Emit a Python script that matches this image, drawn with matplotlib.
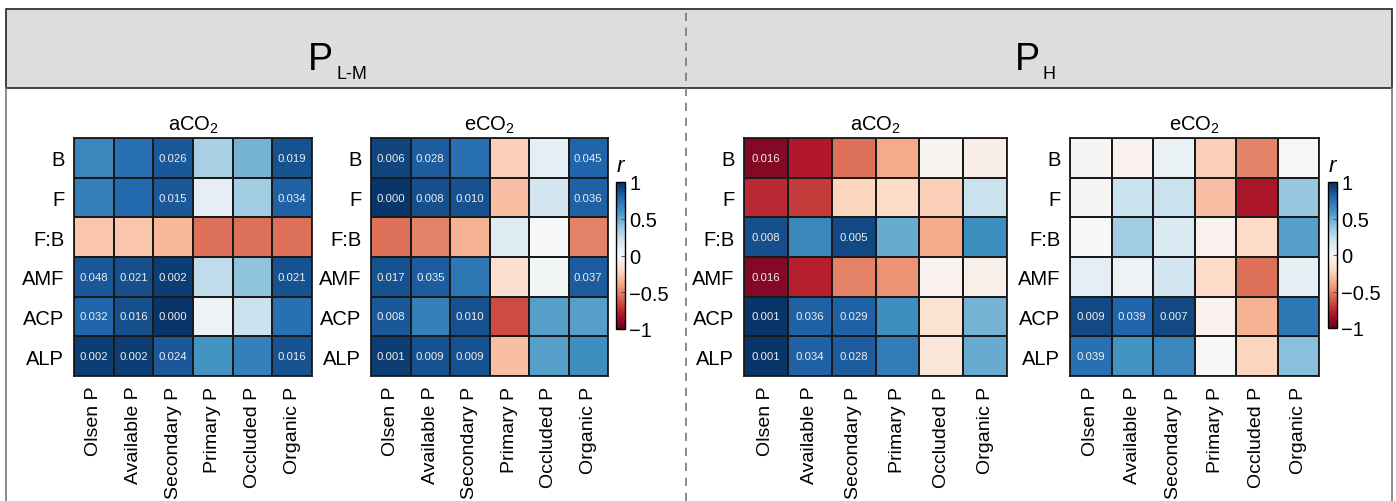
import matplotlib
matplotlib.use('Agg')
import matplotlib.pyplot as plt
import numpy as np
from matplotlib.patches import Rectangle
from matplotlib.lines import Line2D

W, H = 1396, 502

plt.rcParams['font.family'] = ['Liberation Sans', 'DejaVu Sans']
plt.rcParams['mathtext.default'] = 'regular'

rows = ['B', 'F', 'F:B', 'AMF', 'ACP', 'ALP']
cols = ['Olsen P', 'Available P', 'Secondary P', 'Primary P', 'Occluded P', 'Organic P']

# correlation r, P_L-M under aCO2
lm_a_r = [[0.65, 0.75, 0.85, 0.33, 0.47, 0.87],
          [0.68, 0.78, 0.85, 0.10, 0.35, 0.82],
          [-0.28, -0.28, -0.33, -0.55, -0.55, -0.55],
          [0.85, 0.88, 0.95, 0.25, 0.40, 0.87],
          [0.80, 0.88, 0.97, 0.05, 0.22, 0.75],
          [0.95, 0.95, 0.85, 0.60, 0.68, 0.87]]
lm_a_p = [['', '', '0.026', '', '', '0.019'],
          ['', '', '0.015', '', '', '0.034'],
          ['', '', '', '', '', ''],
          ['0.048', '0.021', '0.002', '', '', '0.021'],
          ['0.032', '0.016', '0.000', '', '', ''],
          ['0.002', '0.002', '0.024', '', '', '0.016']]

# P_L-M under eCO2
lm_e_r = [[0.92, 0.83, 0.75, -0.25, 0.10, 0.80],
          [0.97, 0.88, 0.87, -0.30, 0.18, 0.82],
          [-0.55, -0.50, -0.35, 0.12, 0.00, -0.50],
          [0.87, 0.83, 0.72, -0.17, 0.03, 0.83],
          [0.85, 0.68, 0.87, -0.65, 0.55, 0.55],
          [0.95, 0.87, 0.87, -0.30, 0.55, 0.62]]
lm_e_p = [['0.006', '0.028', '', '', '', '0.045'],
          ['0.000', '0.008', '0.010', '', '', '0.036'],
          ['', '', '', '', '', ''],
          ['0.017', '0.035', '', '', '', '0.037'],
          ['0.008', '', '0.010', '', '', ''],
          ['0.001', '0.009', '0.009', '', '', '']]

# P_H under aCO2
h_a_r = [[-0.92, -0.80, -0.55, -0.38, -0.03, -0.07],
         [-0.75, -0.70, -0.22, -0.20, -0.25, 0.22],
         [0.88, 0.65, 0.90, 0.50, -0.38, 0.62],
         [-0.92, -0.78, -0.50, -0.45, -0.04, -0.06],
         [0.97, 0.82, 0.82, 0.62, -0.15, 0.47],
         [0.97, 0.82, 0.83, 0.70, -0.12, 0.50]]
h_a_p = [['0.016', '', '', '', '', ''],
         ['', '', '', '', '', ''],
         ['0.008', '', '0.005', '', '', ''],
         ['0.016', '', '', '', '', ''],
         ['0.001', '0.036', '0.029', '', '', ''],
         ['0.001', '0.034', '0.028', '', '', '']]

# P_H under eCO2
h_e_r = [[-0.01, -0.04, 0.07, -0.25, -0.50, 0.00],
         [-0.01, 0.22, 0.22, -0.30, -0.82, 0.38],
         [0.00, 0.35, 0.15, -0.04, -0.20, 0.55],
         [0.10, 0.05, 0.18, -0.20, -0.55, 0.08],
         [0.90, 0.80, 0.90, -0.04, -0.35, 0.72],
         [0.75, 0.60, 0.65, 0.00, -0.22, 0.42]]
h_e_p = [['', '', '', '', '', ''],
         ['', '', '', '', '', ''],
         ['', '', '', '', '', ''],
         ['', '', '', '', '', ''],
         ['0.009', '0.039', '0.007', '', '', ''],
         ['0.039', '', '', '', '', '']]

fig = plt.figure(figsize=(W / 100, H / 100), dpi=100)


def px_axes(x0, y0, x1, y1):
    return fig.add_axes([x0 / W, 1 - y1 / H, (x1 - x0) / W, (y1 - y0) / H])


def heatmap(box, r, p, title):
    ax = px_axes(*box)
    r = np.array(r)
    mesh = ax.pcolormesh(r, cmap='RdBu', vmin=-1, vmax=1,
                         edgecolors='#1a1a1a', linewidth=1.3)
    ax.set_xlim(0, 6)
    ax.set_ylim(6, 0)
    for i in range(6):
        for j in range(6):
            if p[i][j]:
                ax.text(j + 0.5, i + 0.5, p[i][j], ha='center', va='center',
                        fontsize=8.2, color='#eeeeee')
    ax.set_xticks(np.arange(6) + 0.5)
    ax.set_xticklabels(cols, rotation=90, fontsize=14)
    ax.set_yticks(np.arange(6) + 0.5)
    ax.set_yticklabels(rows, fontsize=14.5)
    ax.tick_params(length=0, pad=7)
    for s in ax.spines.values():
        s.set_linewidth(1.3)
        s.set_color('#1a1a1a')
    ax.set_title(title, fontsize=14.5, pad=6)
    return mesh


def colorbar(mesh, box):
    cax = px_axes(*box)
    cb = fig.colorbar(mesh, cax=cax, ticks=[-1, -0.5, 0, 0.5, 1])
    cb.ax.set_yticklabels(['\u22121', '\u22120.5', '0', '0.5', '1'], fontsize=14.5)
    cb.ax.tick_params(direction='in', length=3, width=0.8, color='#555555', pad=3)
    cb.outline.set_linewidth(1.0)
    cax.text(0.5, 1.04, 'r', transform=cax.transAxes, ha='center', va='bottom',
             fontsize=16, style='italic')


# header band and frame
fig.patches.append(Rectangle((6 / W, 1 - 89 / H), (1392 - 6) / W, (89 - 10) / H,
                             transform=fig.transFigure, facecolor='#dcdddc',
                             edgecolor='#222222', linewidth=1.2, zorder=0))
for xp in [6, 1392]:
    fig.lines.append(Line2D([xp / W, xp / W], [0, 1 - 89 / H], transform=fig.transFigure,
                            color='#777777', linewidth=1.2))
fig.lines.append(Line2D([686 / W, 686 / W], [0, 1 - 10 / H], transform=fig.transFigure,
                        color='#777777', linewidth=1.2, linestyle=(0, (5, 4))))

fig.text(333 / W, 1 - 70 / H, 'P', fontsize=27, ha='right', va='baseline')
fig.text(336 / W, 1 - 79 / H, 'L-M', fontsize=13, ha='left', va='baseline')
fig.text(1040 / W, 1 - 70 / H, 'P', fontsize=27, ha='right', va='baseline')
fig.text(1043 / W, 1 - 79 / H, 'H', fontsize=13, ha='left', va='baseline')

heatmap((74, 139, 312, 377), lm_a_r, lm_a_p, 'aCO$_2$')
m = heatmap((371, 139, 608, 377), lm_e_r, lm_e_p, 'eCO$_2$')
colorbar(m, (616, 183, 625, 330))
heatmap((744, 139, 1007, 377), h_a_r, h_a_p, 'aCO$_2$')
m = heatmap((1070, 139, 1319, 377), h_e_r, h_e_p, 'eCO$_2$')
colorbar(m, (1328, 183, 1337, 329))

fig.savefig('out.png', dpi=100)
